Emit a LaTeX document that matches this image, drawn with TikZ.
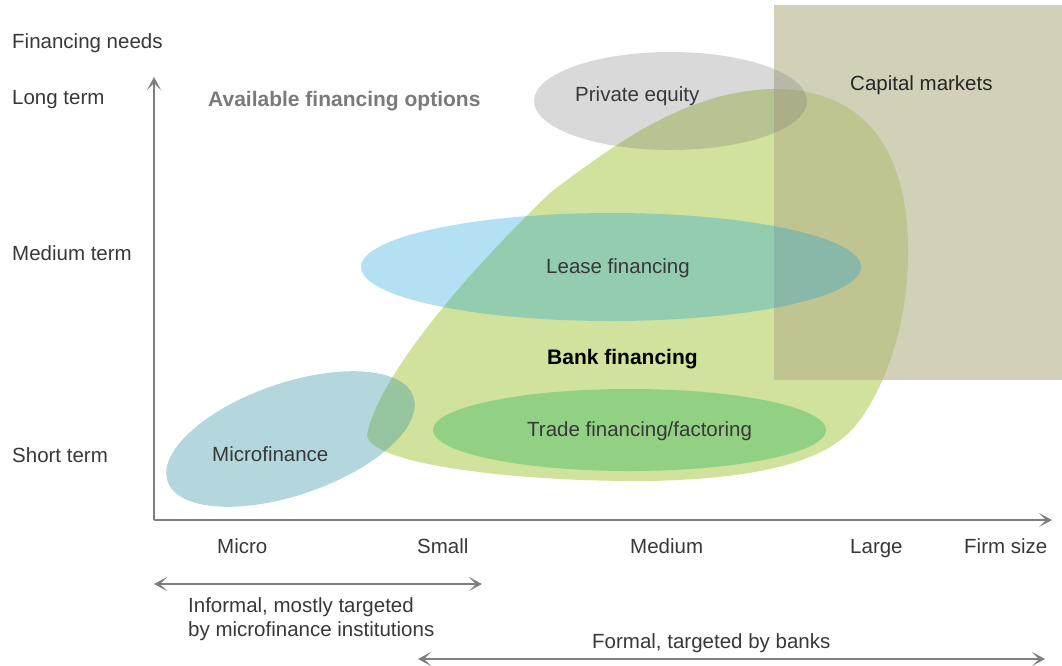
\documentclass[tikz,border=0pt]{standalone}
\usepackage{fontspec}
\setmainfont{Liberation Sans}
\usetikzlibrary{arrows.meta}
\definecolor{bankgreen}{HTML}{D0E29C}
\definecolor{capcol}{RGB}{182,177,137}
\definecolor{pecol}{RGB}{119,119,119}
\definecolor{leasecol}{RGB}{24,160,215}
\definecolor{microcol}{RGB}{65,155,167}
\definecolor{tradecol}{HTML}{92D084}
\definecolor{axiscol}{HTML}{7F7F7F}
\definecolor{txtcol}{HTML}{383838}
\definecolor{titlecol}{HTML}{7A7A7A}
\tikzset{
  lbl/.style={anchor=base west, inner sep=0pt, text=txtcol, font=\fontsize{20.5}{24}\selectfont},
  boldlbl/.style={anchor=base west, inner sep=0pt, font=\fontsize{21}{25}\selectfont\bfseries},
  tipshape/.style={},
  axisline/.style={draw=axiscol, line width=1.8pt, -{Stealth[length=13pt,width=14pt,inset=7pt]}},
  rangeline/.style={draw=axiscol, line width=1.8pt, {Stealth[length=13pt,width=14pt,inset=7pt]}-{Stealth[length=13pt,width=14pt,inset=7pt]}},
}
\begin{document}
\begin{tikzpicture}[x=1pt,y=-1pt]
\useasboundingbox (0,0) rectangle (1062,665);
% bank financing blob
\fill[bankgreen] (367,435) .. controls (380,370) and (480,260) .. (551,192)
  .. controls (620,140) and (690,90) .. (775,89)
  .. controls (880,90) and (910,170) .. (908,260)
  .. controls (906,330) and (885,385) .. (860,420)
  .. controls (835,455) and (780,478) .. (650,481)
  .. controls (520,482) and (370,465) .. (367,435) -- cycle;
% capital markets
\fill[capcol, fill opacity=0.6] (774,5) rectangle (1062,380);
% private equity
\fill[pecol, fill opacity=0.28] (670.5,101) ellipse [x radius=136.5, y radius=49];
% lease financing
\fill[leasecol, fill opacity=0.33] (611,267) ellipse [x radius=250, y radius=54];
% microfinance
\fill[microcol, fill opacity=0.4, rotate around={19:(290.5,439)}] (290.5,439) ellipse [x radius=130, y radius=56];
% trade financing
\fill[tradecol] (629.5,430) ellipse [x radius=196.5, y radius=41];

% axes
\coordinate (origin) at (154,520);
\coordinate (ytop) at (154,77);
\coordinate (xend) at (1052,520);
\draw[axisline] (origin) -- (ytop);
\draw[axisline] (origin) -- (xend);

% range arrows
\coordinate (inf1) at (154,584);
\coordinate (inf2) at (482,584);
\coordinate (for1) at (418,659);
\coordinate (for2) at (1045,659);
\draw[rangeline] (inf1) -- (inf2);
\draw[rangeline] (for1) -- (for2);

% labels
\node[lbl] (needs) at (12,48.5) {Financing needs};
\node[lbl] (long) at (12,104.5) {Long term};
\node[lbl] (medterm) at (12,260.5) {Medium term};
\node[lbl] (short) at (12,462.5) {Short term};
\node[boldlbl, text=titlecol] (title) at (208,106.5) {Available financing options};
\node[lbl] (pe) at (575,101.5) {Private equity};
\node[lbl, text=black!85] (cap) at (850,90.5) {Capital markets};
\node[lbl] (lease) at (546,273.5) {Lease financing};
\node[boldlbl, text=black] (bank) at (547,364.5) {Bank financing};
\node[lbl] (trade) at (527,436.5) {Trade financing/factoring};
\node[lbl] (micro) at (212,461.5) {Microfinance};
\node[lbl] (xmicro) at (217,553.5) {Micro};
\node[lbl] (xsmall) at (417,553.5) {Small};
\node[lbl] (xmedium) at (630,553.5) {Medium};
\node[lbl] (xlarge) at (850,553.5) {Large};
\node[lbl] (xfirm) at (964,553.5) {Firm size};
\node[lbl] (inf) at (188,612.5) {Informal, mostly targeted};
\node[lbl] (inf2t) at (188,636.5) {by microfinance institutions};
\node[lbl] (formal) at (592,648.5) {Formal, targeted by banks};
\end{tikzpicture}
\end{document}
